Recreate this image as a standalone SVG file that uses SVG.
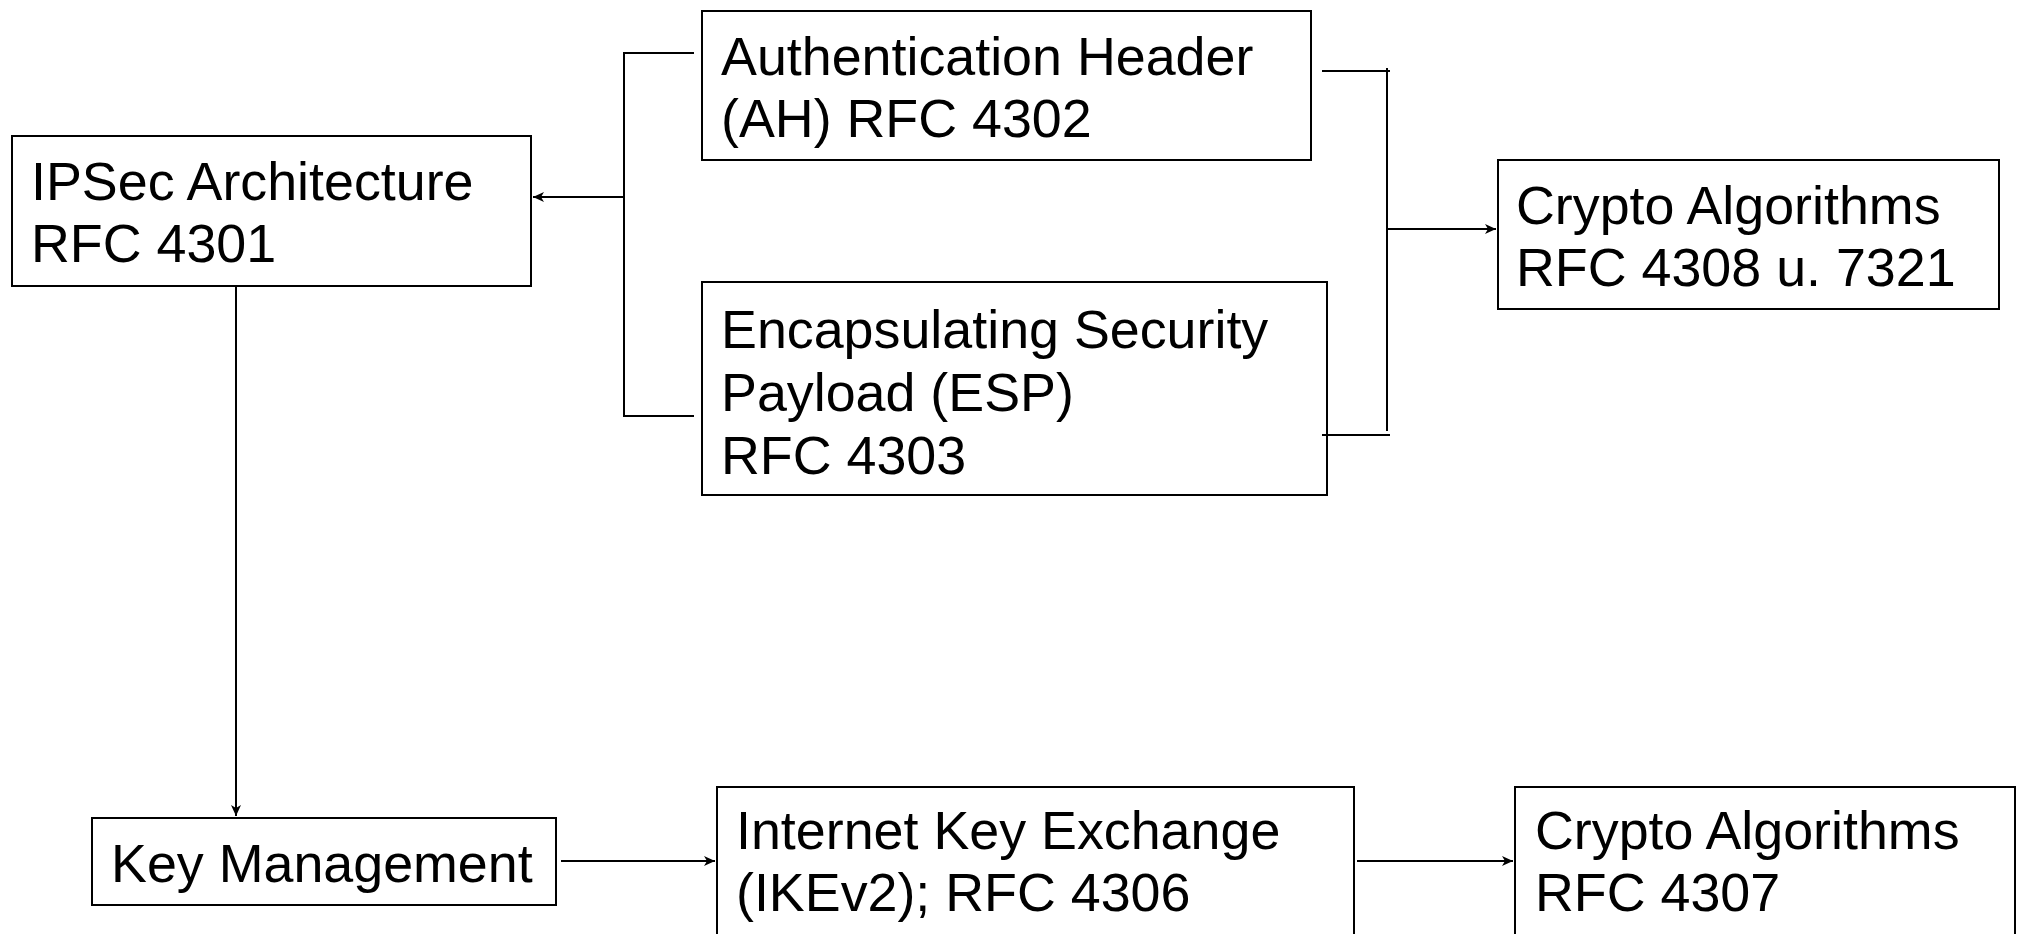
<svg xmlns="http://www.w3.org/2000/svg" width="2022" height="934" viewBox="0 0 2022 934">
<style>
.box{fill:#fff;stroke:#000;stroke-width:2}
.t{font-family:"Liberation Sans",Arial,sans-serif;font-size:53.8px;fill:#000}
.c{fill:none;stroke:#000;stroke-width:2}
</style>
<defs>
<marker id="ah" markerWidth="12" markerHeight="10" refX="11" refY="5" orient="auto" markerUnits="userSpaceOnUse">
<path d="M0,0 L11,5 L0,10 L3,5 Z" fill="#000"/>
</marker>
</defs>
<rect width="2022" height="934" fill="#fff"/>
<g id="ipsec">
<rect class="box" x="12" y="136" width="519" height="150"/>
<text class="t" x="31" y="200">IPSec Architecture</text>
<text class="t" x="31" y="262">RFC 4301</text>
</g>
<g id="ah-node">
<rect class="box" x="702" y="11" width="609" height="149"/>
<text class="t" x="721" y="75">Authentication Header</text>
<text class="t" x="721" y="137">(AH) RFC 4302</text>
</g>
<g id="esp">
<rect class="box" x="702" y="282" width="625" height="213"/>
<text class="t" x="721" y="348">Encapsulating Security</text>
<text class="t" x="721" y="411">Payload (ESP)</text>
<text class="t" x="721" y="474">RFC 4303</text>
</g>
<g id="crypto1">
<rect class="box" x="1498" y="160" width="501" height="149"/>
<text class="t" x="1516" y="224">Crypto Algorithms</text>
<text class="t" x="1516" y="286">RFC 4308 u. 7321</text>
</g>
<g id="keymgmt">
<rect class="box" x="92" y="818" width="464" height="87"/>
<text class="t" x="111" y="882">Key Management</text>
</g>
<g id="ike">
<rect class="box" x="717" y="787" width="637" height="160"/>
<text class="t" x="736" y="849">Internet Key Exchange</text>
<text class="t" x="736" y="911">(IKEv2); RFC 4306</text>
</g>
<g id="crypto2">
<rect class="box" x="1515" y="787" width="500" height="160"/>
<text class="t" x="1535" y="849">Crypto Algorithms</text>
<text class="t" x="1535" y="911">RFC 4307</text>
</g>
<g id="connectors">
<path class="c" d="M694,53 H624 V416 H694"/>
<path class="c" d="M624,197 H533" marker-end="url(#ah)"/>
<path class="c" d="M1322,71 H1390 M1387,68 V431 M1322,435 H1390"/>
<path class="c" d="M1387,229 H1496" marker-end="url(#ah)"/>
<path class="c" d="M236,286 V816" marker-end="url(#ah)"/>
<path class="c" d="M561,861 H715" marker-end="url(#ah)"/>
<path class="c" d="M1357,861 H1513" marker-end="url(#ah)"/>
</g>
</svg>
